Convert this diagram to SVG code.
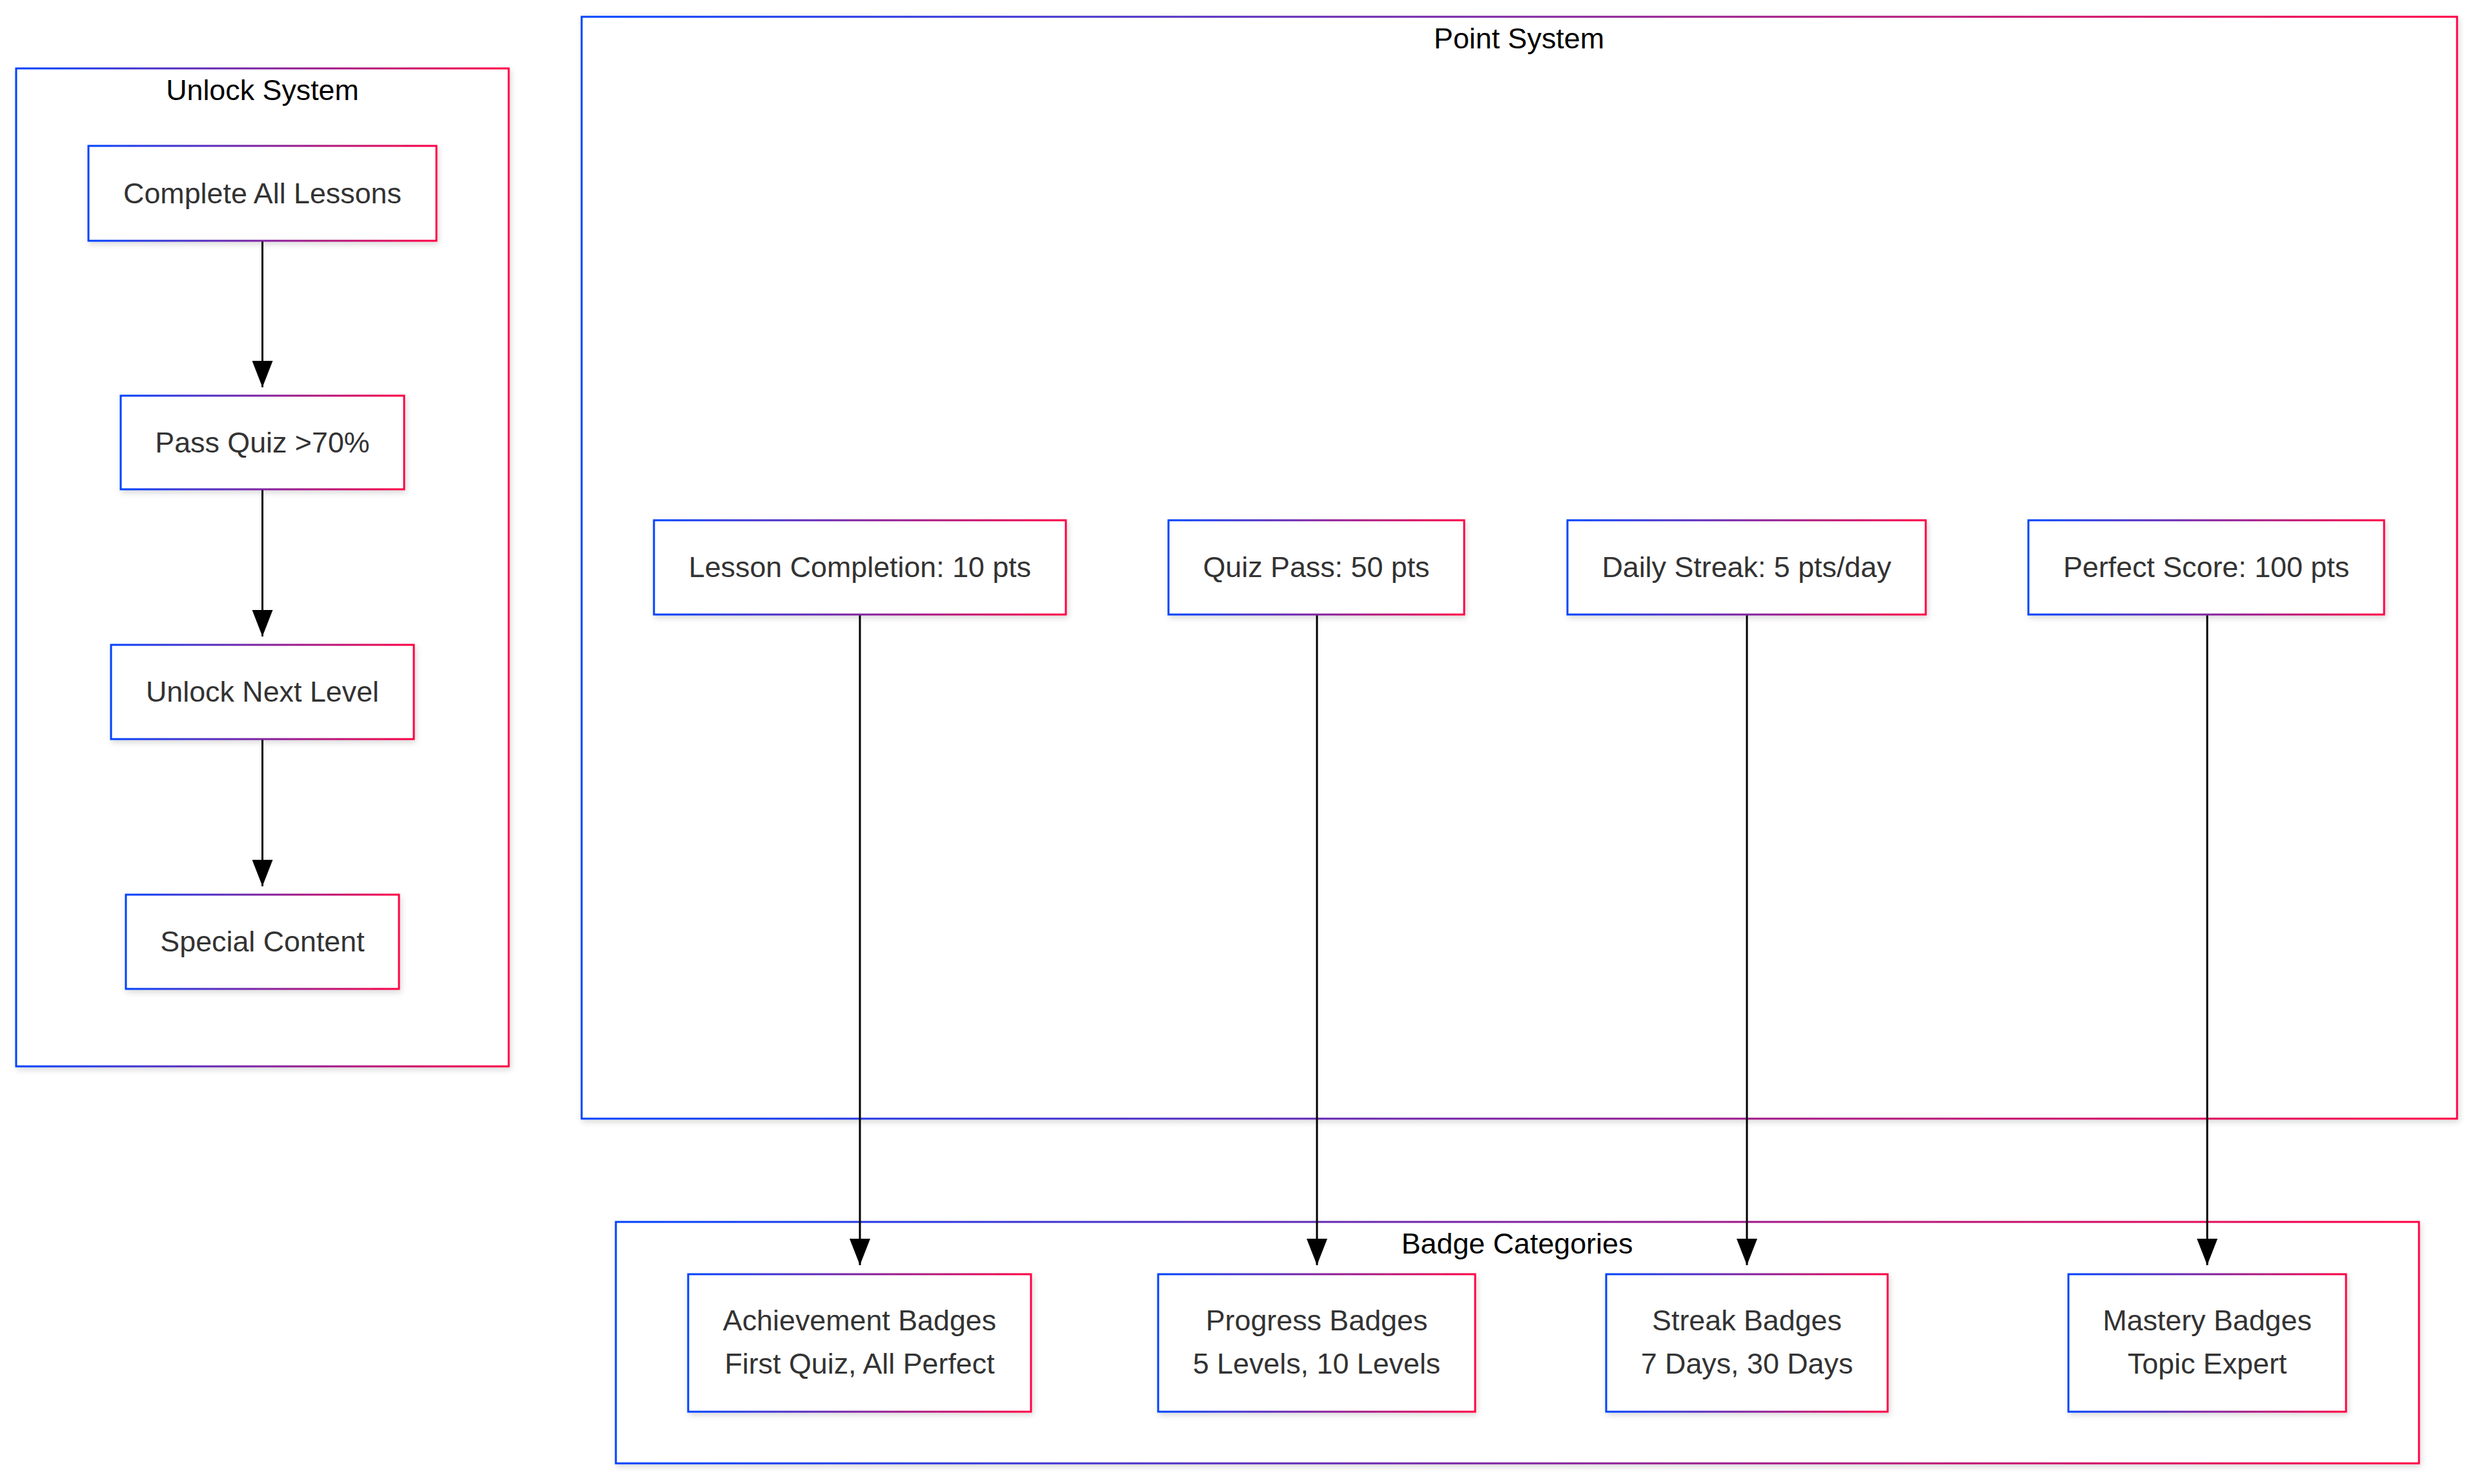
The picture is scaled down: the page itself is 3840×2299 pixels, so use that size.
<svg xmlns="http://www.w3.org/2000/svg" width="3840" height="2299" viewBox="0 0 3840 2299">
  <defs>
    <linearGradient id="grad" x1="0" y1="0" x2="1" y2="0">
      <stop offset="0" stop-color="#0042ff"/>
      <stop offset="1" stop-color="#ff0042"/>
    </linearGradient>
    <filter id="shadow" x="-10%" y="-10%" width="120%" height="130%">
      <feDropShadow dx="2" dy="4" stdDeviation="5" flood-color="#000" flood-opacity="0.15"/>
    </filter>
    <marker id="arrow" viewBox="0 0 41 32" refX="41" refY="16" markerWidth="41" markerHeight="32" markerUnits="userSpaceOnUse" orient="auto">
      <path d="M0,0 L41,16 L0,32 Z" fill="#000"/>
    </marker>
    <style>
      .cluster { fill: #ffffff; stroke: url(#grad); stroke-width: 3; filter: url(#shadow); }
      .node { fill: #ffffff; stroke: url(#grad); stroke-width: 3; filter: url(#shadow); }
      .title { font-family: "Liberation Sans", Arial, sans-serif; font-size: 44.8px; fill: #000; text-anchor: middle; }
      .label { font-family: "Liberation Sans", Arial, sans-serif; font-size: 44.8px; fill: #333; text-anchor: middle; }
      .edge { stroke: #000; stroke-width: 3; fill: none; marker-end: url(#arrow); }
    </style>
  </defs>
  <rect width="3840" height="2299" fill="#ffffff"/>

  <g id="cluster-unlock">
    <rect class="cluster" x="25" y="106" width="763" height="1546"/>
    <text class="title" x="406.5" y="155">Unlock System</text>
  </g>
  <g id="cluster-point">
    <rect class="cluster" x="901" y="26" width="2905" height="1707"/>
    <text class="title" x="2353" y="75">Point System</text>
  </g>
  <g id="cluster-badge">
    <rect class="cluster" x="954" y="1893" width="2793" height="374"/>
    <text class="title" x="2350" y="1942">Badge Categories</text>
  </g>

  <g id="edges">
    <line class="edge" x1="406.5" y1="373" x2="406.5" y2="600"/>
    <line class="edge" x1="406.5" y1="758" x2="406.5" y2="986"/>
    <line class="edge" x1="406.5" y1="1145" x2="406.5" y2="1373"/>
    <line class="edge" x1="1332" y1="952" x2="1332" y2="1960"/>
    <line class="edge" x1="2040" y1="952" x2="2040" y2="1960"/>
    <line class="edge" x1="2706" y1="952" x2="2706" y2="1960"/>
    <line class="edge" x1="3419" y1="952" x2="3419" y2="1960"/>
  </g>

  <g id="node-complete">
    <rect class="node" x="137" y="226" width="539" height="147"/>
    <text class="label" x="406.5" y="314.5">Complete All Lessons</text>
  </g>
  <g id="node-passquiz">
    <rect class="node" x="187" y="613" width="439" height="145"/>
    <text class="label" x="406.5" y="700.5">Pass Quiz &gt;70%</text>
  </g>
  <g id="node-unlocknext">
    <rect class="node" x="172" y="999" width="469" height="146"/>
    <text class="label" x="406.5" y="1087">Unlock Next Level</text>
  </g>
  <g id="node-special">
    <rect class="node" x="195" y="1386" width="423" height="146"/>
    <text class="label" x="406.5" y="1474">Special Content</text>
  </g>

  <g id="node-lesson">
    <rect class="node" x="1013" y="806" width="638" height="146"/>
    <text class="label" x="1332" y="894">Lesson Completion: 10 pts</text>
  </g>
  <g id="node-quizpass">
    <rect class="node" x="1810" y="806" width="458" height="146"/>
    <text class="label" x="2039" y="894">Quiz Pass: 50 pts</text>
  </g>
  <g id="node-daily">
    <rect class="node" x="2428" y="806" width="555" height="146"/>
    <text class="label" x="2705.5" y="894">Daily Streak: 5 pts/day</text>
  </g>
  <g id="node-perfect">
    <rect class="node" x="3142" y="806" width="551" height="146"/>
    <text class="label" x="3417.5" y="894">Perfect Score: 100 pts</text>
  </g>

  <g id="node-achievement">
    <rect class="node" x="1066" y="1974" width="531" height="213"/>
    <text class="label" x="1331.5" y="2060.5">Achievement Badges</text>
    <text class="label" x="1331.5" y="2128">First Quiz, All Perfect</text>
  </g>
  <g id="node-progress">
    <rect class="node" x="1794" y="1974" width="491" height="213"/>
    <text class="label" x="2039.5" y="2060.5">Progress Badges</text>
    <text class="label" x="2039.5" y="2128">5 Levels, 10 Levels</text>
  </g>
  <g id="node-streak">
    <rect class="node" x="2488" y="1974" width="436" height="213"/>
    <text class="label" x="2706" y="2060.5">Streak Badges</text>
    <text class="label" x="2706" y="2128">7 Days, 30 Days</text>
  </g>
  <g id="node-mastery">
    <rect class="node" x="3204" y="1974" width="430" height="213"/>
    <text class="label" x="3419" y="2060.5">Mastery Badges</text>
    <text class="label" x="3419" y="2128">Topic Expert</text>
  </g>
</svg>
